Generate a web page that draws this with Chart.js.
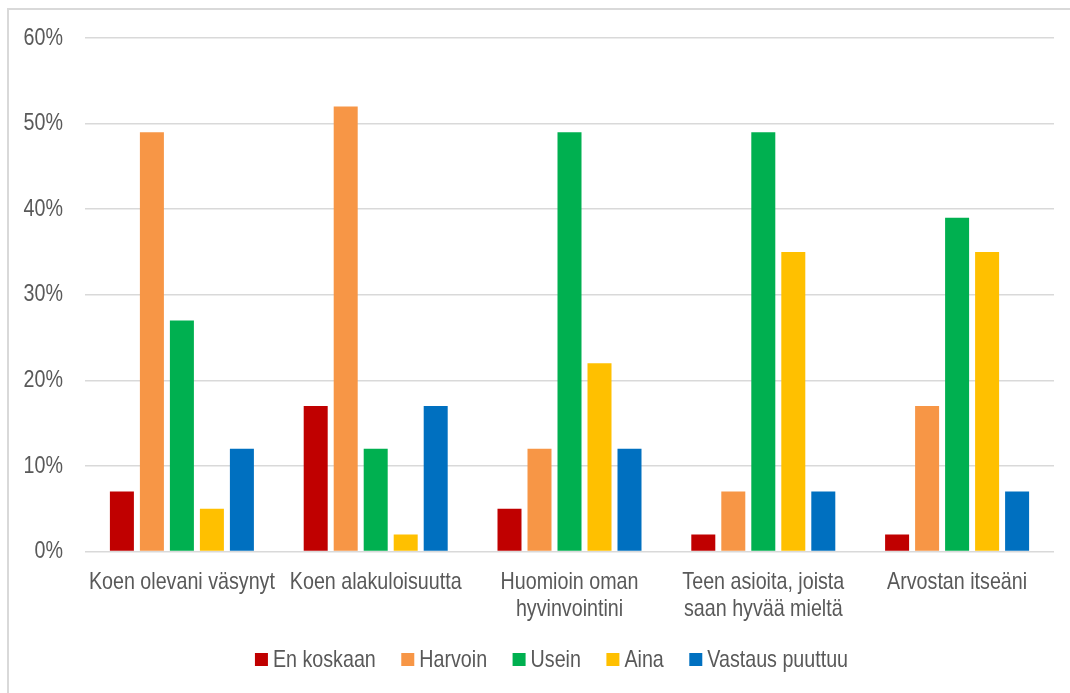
<!DOCTYPE html>
<html>
<head>
<meta charset="utf-8">
<script src="https://cdn.jsdelivr.net/npm/chart.js@4.4.1/dist/chart.umd.min.js"></script>
<style>
  html, body { margin:0; padding:0; background:#fff; overflow:hidden; width:1070px; height:693px; }
  #frame { position:absolute; left:7px; top:8px; width:2000px; height:2000px; border:2px solid #d9d9d9; box-sizing:border-box; }
  #wrap { position:absolute; left:0; top:0; width:1070px; height:693px; }
</style>
</head>
<body>
<div id="frame"></div>
<div id="wrap"><canvas id="c" width="1070" height="693"></canvas></div>
<script>
const categories = [
  "Koen olevani väsynyt",
  "Koen alakuloisuutta",
  ["Huomioin oman", "hyvinvointini"],
  ["Teen asioita, joista", "saan hyvää mieltä"],
  "Arvostan itseäni"
];
const seriesNames = ["En koskaan", "Harvoin", "Usein", "Aina", "Vastaus puuttuu"];
const enKoskaan = [7, 17, 5, 2, 2];
const harvoin   = [49, 52, 12, 7, 17];
const usein     = [27, 12, 49, 49, 39];
const aina      = [5, 2, 22, 35, 35];
const vastausPuuttuu = [12, 17, 12, 7, 7];
const yTicks = [0, 10, 20, 30, 40, 50, 60];

const colors = ["#C00000", "#F79646", "#00B050", "#FFC000", "#0070C0"];
const FONT = "'Liberation Sans', Arial, sans-serif";
const TXT = "#595959";
const SX = 0.82; // horizontal condensation to mimic a narrow typeface

const seriesData = [enKoskaan, harvoin, usein, aina, vastausPuuttuu];

const canvas = document.getElementById('c');
const cx = canvas.getContext('2d');
const origFill = cx.fillText.bind(cx);
const origMeasure = cx.measureText.bind(cx);
cx.fillText = function (t, x, y, mw) {
  this.save();
  this.translate(x, y);
  this.scale(SX, 1);
  origFill(t, 0, 0);
  this.restore();
};
cx.measureText = function (t) {
  const m = origMeasure(t);
  return {
    width: m.width * SX,
    actualBoundingBoxAscent: m.actualBoundingBoxAscent,
    actualBoundingBoxDescent: m.actualBoundingBoxDescent,
    actualBoundingBoxLeft: m.actualBoundingBoxLeft * SX,
    actualBoundingBoxRight: m.actualBoundingBoxRight * SX,
    fontBoundingBoxAscent: m.fontBoundingBoxAscent,
    fontBoundingBoxDescent: m.fontBoundingBoxDescent
  };
};

const customLegend = {
  id: 'customLegend',
  afterDraw(chart) {
    const ctx = chart.ctx;
    ctx.save();
    ctx.font = "24px " + FONT;
    ctx.textBaseline = 'middle';
    const box = 13, gapBoxText = 5, gapItems = 25.5;
    const items = chart.data.datasets.map(d => ({ text: d.label, color: d.backgroundColor, w: ctx.measureText(d.label).width }));
    let total = 0;
    items.forEach((it, i) => { total += box + gapBoxText + it.w + (i < items.length - 1 ? gapItems : 0); });
    let x = 551.5 - total / 2;
    const cy = 659.5;
    items.forEach(it => {
      ctx.fillStyle = it.color;
      ctx.fillRect(x, cy - box / 2, box, box);
      x += box + gapBoxText;
      ctx.fillStyle = TXT;
      ctx.textAlign = 'left';
      ctx.fillText(it.text, x, cy + 1);
      x += it.w + gapItems;
    });
    ctx.restore();
  }
};

new Chart(canvas, {
  type: 'bar',
  data: {
    labels: categories,
    datasets: seriesNames.map((n, i) => ({
      label: n,
      data: seriesData[i],
      backgroundColor: colors[i],
      borderWidth: 0,
      categoryPercentage: 0.774,
      barPercentage: 0.8
    }))
  },
  options: {
    responsive: false,
    animation: false,
    devicePixelRatio: 1,
    layout: { padding: { top: 38, right: 16, bottom: 0, left: 0 } },
    plugins: {
      legend: { display: false },
      tooltip: { enabled: false }
    },
    scales: {
      x: {
        grid: { display: false, drawTicks: false },
        border: { display: false },
        ticks: {
          color: TXT,
          font: { family: FONT, size: 24, lineHeight: 1.1 },
          padding: 18,
          maxRotation: 0,
          autoSkip: false
        },
        afterFit(scale) { scale.height = 141.5; }
      },
      y: {
        min: 0,
        max: 60,
        afterBuildTicks(scale) { scale.ticks = yTicks.map(v => ({ value: v })); },
        grid: { color: "#d9d9d9", lineWidth: 1.5, drawTicks: false },
        border: { display: false },
        ticks: {
          color: TXT,
          font: { family: FONT, size: 24 },
          padding: 22,
          callback: v => v + "%"
        },
        afterFit(scale) { scale.width = 85; }
      }
    }
  },
  plugins: [customLegend]
});
</script>
</body>
</html>
